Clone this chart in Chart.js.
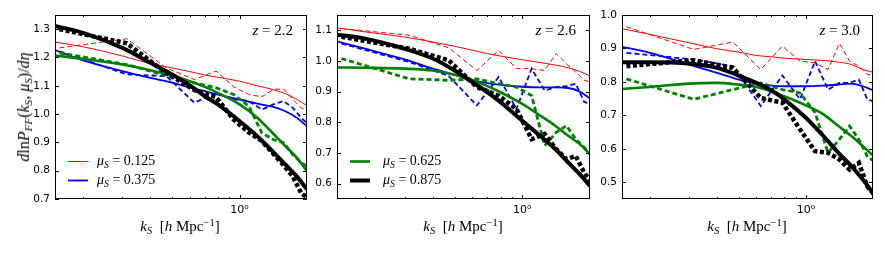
<!DOCTYPE html>
<html>
<head>
<meta charset="utf-8">
<script src="https://cdn.jsdelivr.net/npm/chart.js@4.4.1/dist/chart.umd.min.js"></script>
<style>
  body { margin: 0; background: #fff; width: 885px; height: 253px; position: relative; overflow: hidden; }
  canvas { position: absolute; top: 0; }
  .m { position: absolute; font-family: "Liberation Serif", "DejaVu Serif", serif; font-size: 14px; white-space: nowrap; color: #000; line-height: 1; }
  .m i { font-style: italic; }
  .m sub { font-size: 70%; vertical-align: -3px; line-height: 0; }
  .m sup { font-size: 70%; vertical-align: 5px; line-height: 0; }
  .ytitle { transform: translate(-50%, -50%) rotate(-90deg); font-size: 16px; }
  .xtitle { font-size: 15px; }
  .ctr { transform: translate(-50%, -50%); }
  .rgt { transform: translate(-100%, -50%); }
  .lft { transform: translate(0, -50%); }
</style>
</head>
<body>
<canvas id="p1" width="312" height="253" style="left:0px"></canvas>
<canvas id="p2" width="285" height="253" style="left:312px"></canvas>
<canvas id="p3" width="288" height="253" style="left:597px"></canvas>

<div class="m ytitle" style="left:24px; top:107px"><i>d</i>ln<i>P</i><sub><i>FF</i></sub>(<i>k</i><sub><i>S</i></sub>, <i>μ</i><sub><i>S</i></sub>)/<i>dη</i></div>
<div class="m ctr xtitle" style="left:180px; top:226px"><i>k</i><sub><i>S</i></sub>&nbsp;&nbsp;[<i>h</i> Mpc<sup>−1</sup>]</div>
<div class="m ctr xtitle" style="left:463px; top:226px"><i>k</i><sub><i>S</i></sub>&nbsp;&nbsp;[<i>h</i> Mpc<sup>−1</sup>]</div>
<div class="m ctr xtitle" style="left:747px; top:226px"><i>k</i><sub><i>S</i></sub>&nbsp;&nbsp;[<i>h</i> Mpc<sup>−1</sup>]</div>
<div class="m rgt" style="left:293px; top:30px; font-size:15px"><i>z</i> = 2.2</div>
<div class="m rgt" style="left:576px; top:30px; font-size:15px"><i>z</i> = 2.6</div>
<div class="m rgt" style="left:860px; top:30px; font-size:15px"><i>z</i> = 3.0</div>
<div class="m lft" style="left:97px; top:161px"><i>μ</i><sub><i>S</i></sub> = 0.125</div>
<div class="m lft" style="left:97px; top:180px"><i>μ</i><sub><i>S</i></sub> = 0.375</div>
<div class="m lft" style="left:383px; top:161px"><i>μ</i><sub><i>S</i></sub> = 0.625</div>
<div class="m lft" style="left:383px; top:180px"><i>μ</i><sub><i>S</i></sub> = 0.875</div>

<script>
// k values where the model curves are read, and the k bins of the measurements
const kModel = [0.15, 0.2, 0.3, 0.4, 0.5, 0.6, 0.7, 0.8, 1.0, 1.2, 1.4, 1.6, 1.8, 2.0];
const kData = [0.157, 0.314, 0.471, 0.628, 0.785, 0.942, 1.100, 1.257, 1.414, 1.571, 1.728, 1.885, 2.042];

const xTicks = [0.2, 0.3, 0.4, 0.5, 0.6, 0.7, 0.8, 0.9, 1];
const yTicksZ22 = [0.7, 0.8, 0.9, 1.0, 1.1, 1.2, 1.3];
const yTicksZ26 = [0.6, 0.7, 0.8, 0.9, 1.0, 1.1];
const yTicksZ30 = [0.5, 0.6, 0.7, 0.8, 0.9, 1.0];

// z = 2.2
const fitZ22Mu125 = [1.254, 1.238, 1.205, 1.178, 1.163, 1.150, 1.138, 1.130, 1.116, 1.100, 1.087, 1.072, 1.052, 1.030];
const fitZ22Mu375 = [1.226, 1.190, 1.152, 1.128, 1.111, 1.093, 1.081, 1.069, 1.052, 1.037, 1.026, 1.010, 0.987, 0.957];
const fitZ22Mu625 = [1.207, 1.195, 1.175, 1.155, 1.136, 1.116, 1.096, 1.075, 1.034, 0.987, 0.934, 0.887, 0.846, 0.798];
const fitZ22Mu875 = [1.311, 1.287, 1.234, 1.181, 1.140, 1.101, 1.063, 1.034, 0.975, 0.922, 0.869, 0.822, 0.780, 0.734];
const simZ22Mu125 = [1.234, 1.266, 1.163, 1.122, 1.152, 1.096, 1.069, 1.061, 1.087, 1.089, 1.052, 1.022, 1.010];
const simZ22Mu375 = [1.222, 1.140, 1.134, 1.040, 1.075, 1.052, 1.046, 1.016, 1.034, 1.046, 1.022, 0.987, 0.960];
const simZ22Mu625 = [1.216, 1.175, 1.136, 1.110, 1.093, 1.069, 1.028, 0.934, 0.910, 0.899, 0.857, 0.828, 0.810];
const simZ22Mu875 = [1.300, 1.250, 1.145, 1.085, 1.060, 0.980, 0.935, 0.905, 0.860, 0.820, 0.780, 0.720, 0.700];

// z = 2.6
const fitZ26Mu125 = [1.108, 1.095, 1.078, 1.062, 1.048, 1.035, 1.024, 1.016, 1.004, 0.995, 0.987, 0.978, 0.966, 0.951];
const fitZ26Mu375 = [1.064, 1.040, 1.005, 0.975, 0.955, 0.938, 0.928, 0.922, 0.916, 0.914, 0.914, 0.912, 0.900, 0.878];
const fitZ26Mu625 = [0.979, 0.978, 0.975, 0.969, 0.955, 0.937, 0.918, 0.898, 0.860, 0.822, 0.789, 0.756, 0.729, 0.696];
const fitZ26Mu875 = [1.086, 1.073, 1.040, 1.008, 0.969, 0.931, 0.898, 0.866, 0.805, 0.756, 0.713, 0.669, 0.631, 0.592];
const simZ26Mu125 = [1.106, 1.084, 1.043, 0.969, 1.035, 0.975, 0.975, 0.969, 1.024, 0.991, 0.964, 0.937, 0.930];
const simZ26Mu375 = [1.057, 0.997, 0.951, 0.855, 0.948, 0.844, 0.975, 0.904, 0.915, 0.918, 0.926, 0.866, 0.860];
const simZ26Mu625 = [1.008, 0.942, 0.937, 0.942, 0.926, 0.915, 0.887, 0.724, 0.767, 0.789, 0.745, 0.718, 0.690];
const simZ26Mu875 = [1.079, 1.040, 1.002, 0.915, 0.887, 0.844, 0.745, 0.762, 0.713, 0.680, 0.690, 0.636, 0.600];

// z = 3.0
const fitZ30Mu125 = [0.959, 0.942, 0.917, 0.899, 0.889, 0.879, 0.875, 0.871, 0.867, 0.864, 0.859, 0.852, 0.837, 0.829];
const fitZ30Mu375 = [0.905, 0.887, 0.852, 0.827, 0.807, 0.795, 0.789, 0.787, 0.787, 0.789, 0.792, 0.795, 0.787, 0.775];
const fitZ30Mu625 = [0.779, 0.785, 0.795, 0.797, 0.792, 0.785, 0.772, 0.757, 0.730, 0.703, 0.668, 0.638, 0.608, 0.580];
const fitZ30Mu875 = [0.859, 0.859, 0.855, 0.842, 0.819, 0.797, 0.775, 0.748, 0.693, 0.638, 0.588, 0.548, 0.508, 0.468];
const simZ30Mu125 = [0.965, 0.897, 0.919, 0.837, 0.907, 0.862, 0.857, 0.837, 0.915, 0.862, 0.847, 0.822, 0.820];
const simZ30Mu375 = [0.887, 0.867, 0.847, 0.728, 0.819, 0.748, 0.862, 0.777, 0.797, 0.797, 0.807, 0.748, 0.740];
const simZ30Mu625 = [0.809, 0.748, 0.777, 0.797, 0.777, 0.767, 0.708, 0.588, 0.628, 0.668, 0.628, 0.578, 0.560];
const simZ30Mu875 = [0.847, 0.865, 0.842, 0.752, 0.738, 0.658, 0.593, 0.588, 0.568, 0.538, 0.558, 0.488, 0.460];

// line look per mu bin: red, blue, green, black
const muColors = ['#ff0000', '#0000ff', '#008000', '#000000'];
const fitWidths = [1, 1.8, 2.6, 4];
const simWidths = [1, 1.8, 2.8, 4.5];
const simDashes = [[5, 3], [5, 3], [5, 3], [4, 2.5]];

const toPoints = (xs, ys) => xs.map((k, i) => ({ x: k, y: ys[i] }));

const buildDatasets = (fits, sims) => {
    const sets = [];
    // black first so it ends up on top
    for (let i = 3; i >= 0; i--) {
        sets.push({
            data: toPoints(kModel, fits[i]),
            borderColor: muColors[i],
            borderWidth: fitWidths[i],
            cubicInterpolationMode: 'monotone',
            pointRadius: 0,
            clip: 0
        });
        sets.push({
            data: toPoints(kData, sims[i]),
            borderColor: muColors[i],
            borderWidth: simWidths[i],
            borderDash: simDashes[i],
            tension: 0,
            pointRadius: 0,
            clip: 0
        });
    }
    return sets;
};

// frame, inward ticks and legend samples
const framePlugin = {
    id: 'frame',
    afterDraw(chart, args, opts) {
        const { ctx, chartArea: a, scales } = chart;
        ctx.save();
        ctx.strokeStyle = '#000';
        ctx.lineWidth = 1;
        ctx.beginPath();
        xTicks.forEach(v => {
            const x = Math.round(scales.x.getPixelForValue(v)) + 0.5;
            const len = v === 1 ? 4 : 2;
            ctx.moveTo(x, a.bottom); ctx.lineTo(x, a.bottom - len);
            ctx.moveTo(x, a.top); ctx.lineTo(x, a.top + len);
        });
        opts.yTicks.forEach(v => {
            const y = Math.round(scales.y.getPixelForValue(v)) + 0.5;
            ctx.moveTo(a.left, y); ctx.lineTo(a.left + 4, y);
            ctx.moveTo(a.right, y); ctx.lineTo(a.right - 4, y);
        });
        ctx.stroke();
        ctx.strokeRect(Math.round(a.left) + 0.5, Math.round(a.top) + 0.5,
            Math.round(a.right - a.left) - 1, Math.round(a.bottom - a.top) - 1);
        (opts.legend || []).forEach((idx, row) => {
            const y = 161.5 + row * 19;
            ctx.beginPath();
            ctx.strokeStyle = muColors[idx];
            ctx.lineWidth = fitWidths[idx];
            ctx.moveTo(a.left + 13, y);
            ctx.lineTo(a.left + 33, y);
            ctx.stroke();
        });
        ctx.restore();
    }
};

const makePanel = (id, fits, sims, yMin, yMax, yTicks, yWidth, padRight, legend) => {
    const canvas = document.getElementById(id);
    return new Chart(canvas.getContext('2d'), {
        type: 'line',
        data: { datasets: buildDatasets(fits, sims) },
        options: {
            responsive: false,
            animation: false,
            devicePixelRatio: 1,
            layout: { padding: { top: 15, right: padRight, bottom: 0, left: 0 } },
            plugins: {
                legend: { display: false },
                tooltip: { enabled: false },
                frame: { yTicks: yTicks, legend: legend }
            },
            scales: {
                x: {
                    type: 'logarithmic',
                    min: 0.15,
                    max: 2.0,
                    afterBuildTicks: s => { s.ticks = xTicks.map(v => ({ value: v })); },
                    afterFit: s => { s.height = 54; },
                    grid: { display: false, drawTicks: false },
                    border: { display: false },
                    ticks: {
                        autoSkip: false,
                        maxRotation: 0,
                        padding: 5,
                        color: '#000',
                        font: { family: 'DejaVu Sans', size: 11 },
                        callback: v => (v === 1 ? '10\u2070' : '')
                    }
                },
                y: {
                    min: yMin,
                    max: yMax,
                    afterBuildTicks: s => { s.ticks = yTicks.map(v => ({ value: v })); },
                    afterFit: s => { s.width = yWidth; },
                    grid: { display: false, drawTicks: false },
                    border: { display: false },
                    ticks: {
                        padding: 5,
                        color: '#000',
                        font: { family: 'DejaVu Sans', size: 10.5 },
                        callback: v => v.toFixed(1)
                    }
                }
            }
        },
        plugins: [framePlugin]
    });
};

makePanel('p1', [fitZ22Mu125, fitZ22Mu375, fitZ22Mu625, fitZ22Mu875],
    [simZ22Mu125, simZ22Mu375, simZ22Mu625, simZ22Mu875], 0.7, 1.35, yTicksZ22, 55, 5, [0, 1]);
makePanel('p2', [fitZ26Mu125, fitZ26Mu375, fitZ26Mu625, fitZ26Mu875],
    [simZ26Mu125, simZ26Mu375, simZ26Mu625, simZ26Mu875], 0.55, 1.15, yTicksZ26, 25, 7, [2, 3]);
makePanel('p3', [fitZ30Mu125, fitZ30Mu375, fitZ30Mu625, fitZ30Mu875],
    [simZ30Mu125, simZ30Mu375, simZ30Mu625, simZ30Mu875], 0.45, 1.0, yTicksZ30, 25, 12, []);
</script>
</body>
</html>
